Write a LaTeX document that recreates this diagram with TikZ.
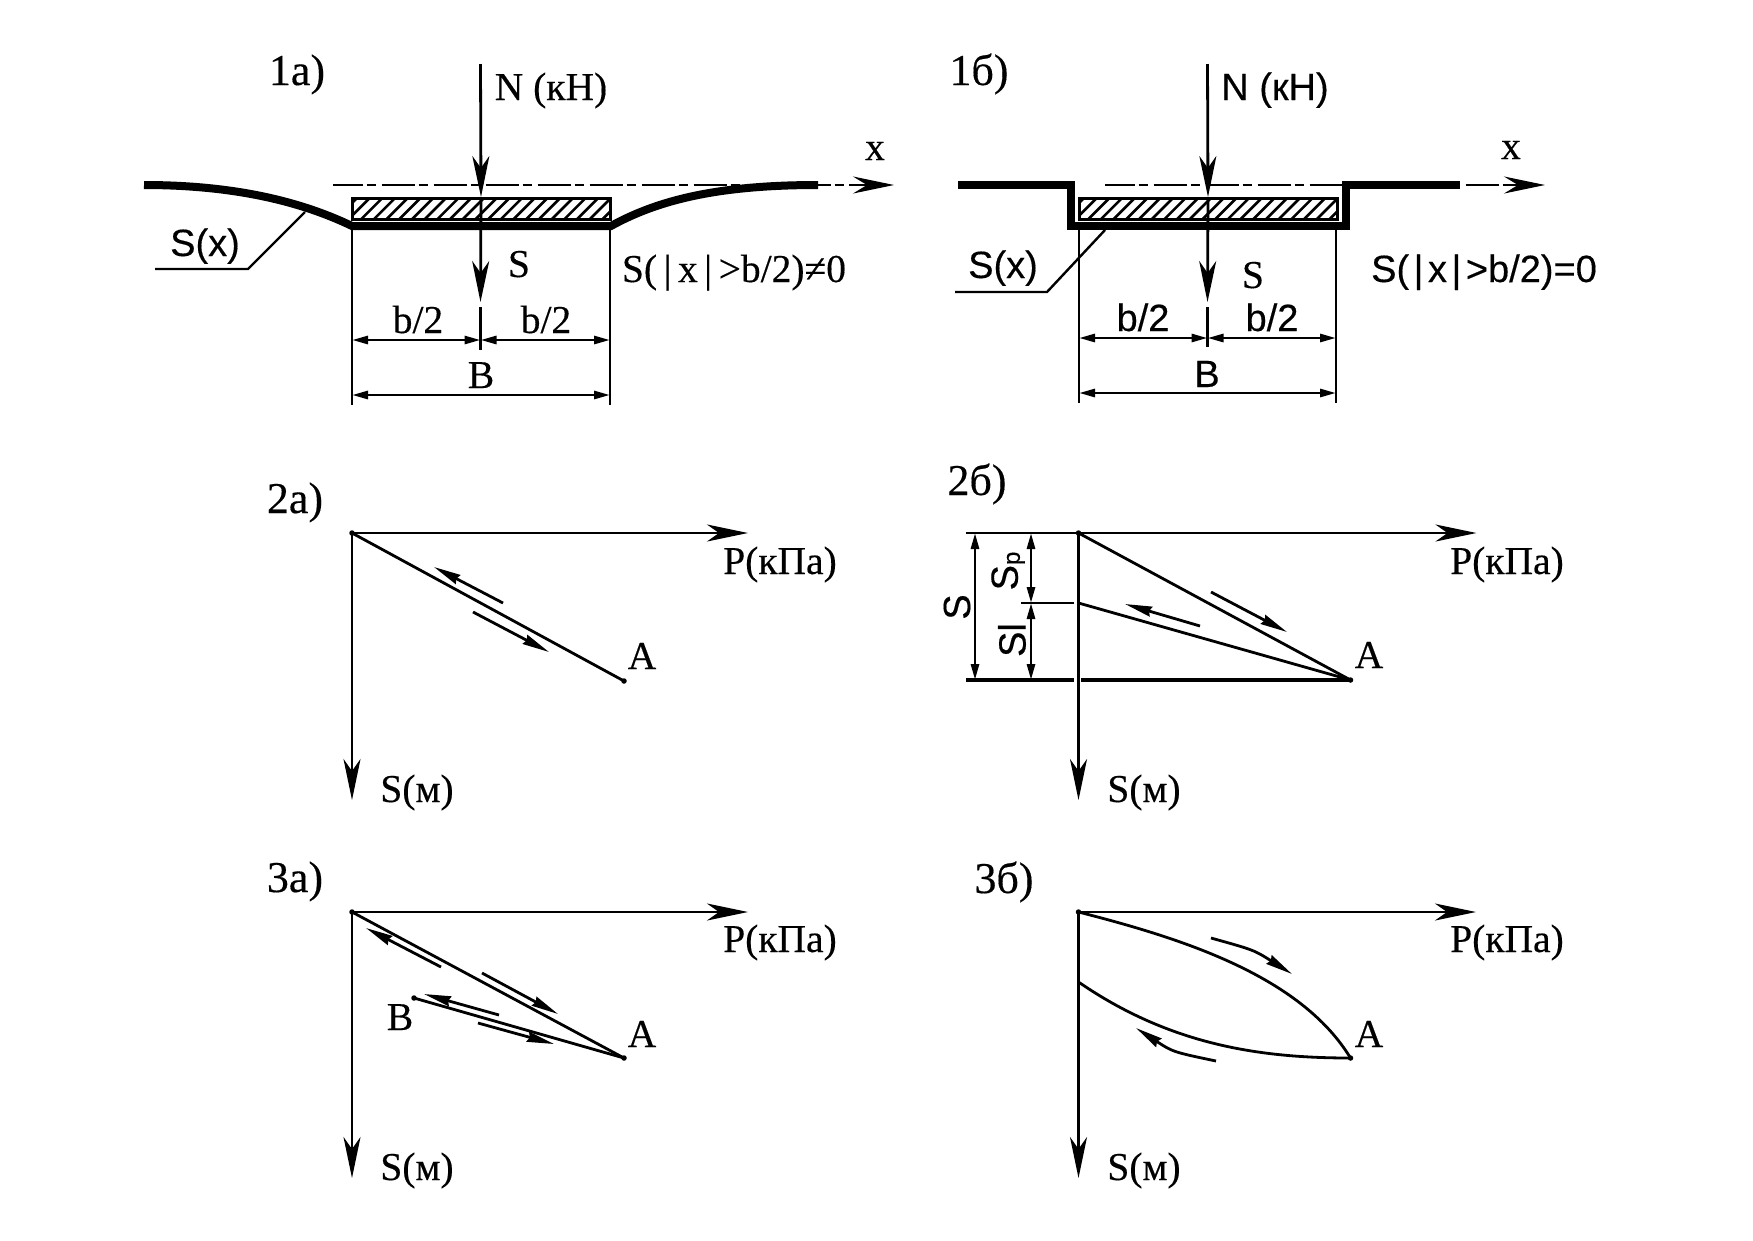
\documentclass[tikz,border=0pt]{standalone}
\usepackage{fontspec}
\setmainfont{Liberation Serif}[FakeBold=0.35]
\setsansfont{Liberation Sans}[FakeBold=0.35]
\usetikzlibrary{arrows.meta}
\tikzset{
  base line/.style={line width=2.8pt,line cap=butt},
  main arrow/.style={base line,-{Stealth[length=41pt,width=17pt,inset=12pt]}},
  small arrow/.style={base line,-{Stealth[length=27pt,width=10pt,inset=2pt]}},
  dim line/.style={base line,{Stealth[length=16pt,width=8pt,inset=0pt]}-{Stealth[length=16pt,width=8pt,inset=0pt]}},
  thin line/.style={line width=2.4pt},
  ground/.style={line width=8pt,miter limit=10},
  axis line/.style={base line,dash pattern=on 33pt off 4pt on 9pt off 6pt,dash phase=3.3pt},
  axis head/.style={base line,-{Stealth[length=41pt,width=17pt,inset=14pt]}},
  plate/.style={draw,line width=3pt,inner sep=0pt,minimum width=258pt,minimum height=21pt,
    path picture={\foreach \i in {-146,-133.3,...,130}{
      \draw[line width=2.6pt] (\i pt,-11pt) -- ++(22pt,22pt);}}},
  serif lab/.style={inner sep=0pt,anchor=base,font=\fontsize{39.5}{41}\selectfont},
  sans lab/.style={inner sep=0pt,anchor=base,font=\fontsize{38}{40}\sffamily\selectfont},
  title lab/.style={inner sep=0pt,anchor=base,font=\fontsize{44}{46}\selectfont},
  pt dot/.style={circle,fill,inner sep=0pt,minimum size=5.5pt},
}
\begin{document}
\begin{tikzpicture}[x=1pt,y=-1pt]
\useasboundingbox (0,0) rectangle (1753,1240);
\fill[white] (0,0) rectangle (1753,1240);

% ---------- 1a
\node[plate] (plA) at (481,209) {};
\coordinate (nA) at (480.5,64);
\coordinate (sA) at (480.5,302);
\coordinate (tA1) at (480.5,307);
\coordinate (tA2) at (480.5,350);
\draw[main arrow] (nA) -- (plA.north);
\draw[main arrow] (plA.north) -- (sA);
\draw[base line] (tA1) -- (tA2);
\coordinate (axA1) at (333,185);
\coordinate (axA2) at (853,185);
\coordinate (axA3) at (894,185);
\draw[axis line] (axA1) -- (axA2);
\draw[axis head] (axA2) ++(-4,0) -- (axA3);
\coordinate (gA1) at (144,185);
\coordinate (gA2) at (352,226);
\coordinate (gA3) at (611,226);
\coordinate (gA4) at (818,185);
\draw[ground] (gA1) .. controls (230,185) and (298,200) .. (gA2) -- (gA3) .. controls (658,200) and (718,185) .. (gA4);
\coordinate (lA1) at (352,230);
\coordinate (lA2) at (352,405);
\coordinate (lA3) at (610,230);
\coordinate (lA4) at (610,405);
\draw[thin line] (lA1) -- (lA2);
\draw[thin line] (lA3) -- (lA4);
\coordinate (dA1) at (352,340);
\coordinate (dA2) at (480.5,340);
\coordinate (dA3) at (610,340);
\draw[dim line] (dA1) -- (dA2);
\draw[dim line] (dA2) -- (dA3);
\coordinate (dA4) at (352,395);
\coordinate (dA5) at (610,395);
\draw[dim line] (dA4) -- (dA5);
\coordinate (ldA1) at (305,212);
\coordinate (ldA2) at (248,269);
\coordinate (ldA3) at (155,269);
\draw[thin line] (ldA1) -- (ldA2) -- (ldA3);
\node[title lab] (t1a) at (297,85) {1а)};
\node[serif lab] (nLA) at (551,100) {N (кН)};
\node[serif lab] (xLA) at (875,160) {x};
\node[sans lab] (sxA) at (205,256) {S(x)};
\node[serif lab] (sLA) at (519,277) {S};
\node[serif lab] (condA) at (734,282) {S(\kern6.5pt|\kern6.5pt x\kern6.5pt|\kern6.5pt>b/2)≠0};
\node[serif lab] (bA1) at (418,333) {b/2};
\node[serif lab] (bA2) at (546,333) {b/2};
\node[serif lab] (bA3) at (481,388) {B};

% ---------- 1b
\node[plate] (plB) at (1208,209) {};
\coordinate (nB) at (1207.5,64);
\coordinate (sB) at (1207.5,302);
\coordinate (tB1) at (1207.5,307);
\coordinate (tB2) at (1207.5,347);
\draw[main arrow] (nB) -- (plB.north);
\draw[main arrow] (plB.north) -- (sB);
\draw[base line] (tB1) -- (tB2);
\coordinate (axB1) at (1105,185);
\coordinate (axB2) at (1507,185);
\coordinate (axB3) at (1545,185);
\draw[axis line] (axB1) -- (axB2);
\draw[axis head] (axB2) ++(-4,0) -- (axB3);
\coordinate (gB1) at (958,185);
\coordinate (gB2) at (1070.5,185);
\coordinate (gB3) at (1070.5,226);
\coordinate (gB4) at (1346,226);
\coordinate (gB5) at (1346,185);
\coordinate (gB6) at (1460,185);
\draw[ground] (gB1) -- (gB2) -- (gB3) -- (gB4) -- (gB5) -- (gB6);
\coordinate (lB1) at (1079,230);
\coordinate (lB2) at (1079,403);
\coordinate (lB3) at (1336,230);
\coordinate (lB4) at (1336,403);
\draw[thin line] (lB1) -- (lB2);
\draw[thin line] (lB3) -- (lB4);
\coordinate (dB1) at (1079,338);
\coordinate (dB2) at (1207.5,338);
\coordinate (dB3) at (1336,338);
\draw[dim line] (dB1) -- (dB2);
\draw[dim line] (dB2) -- (dB3);
\coordinate (dB4) at (1079,393);
\coordinate (dB5) at (1336,393);
\draw[dim line] (dB4) -- (dB5);
\coordinate (ldB1) at (1105,230);
\coordinate (ldB2) at (1047,292);
\coordinate (ldB3) at (955,292);
\draw[thin line] (ldB1) -- (ldB2) -- (ldB3);
\node[title lab] (t1b) at (979,85) {1б)};
\node[sans lab] (nLB) at (1275,100) {N (кН)};
\node[serif lab] (xLB) at (1511,159) {x};
\node[sans lab] (sxB) at (1003,278) {S(x)};
\node[serif lab] (sLB) at (1253,288) {S};
\node[sans lab] (condB) at (1484,282) {S(\kern4.5pt|\kern4.5pt x\kern4.5pt|\kern4.5pt>b/2)=0};
\node[sans lab] (bB1) at (1143,331) {b/2};
\node[sans lab] (bB2) at (1272,331) {b/2};
\node[sans lab] (bB3) at (1207,387) {B};

% ---------- 2a
\node[pt dot] (oC) at (352,533) {};
\node[pt dot] (aC) at (624,681) {};
\coordinate (pC) at (748,533);
\coordinate (qC) at (352,800);
\draw[main arrow] (oC.center) -- (pC);
\draw[main arrow] (oC.center) -- (qC);
\draw[base line] (oC.center) -- (aC.center);
\coordinate (c1) at (503,603);
\coordinate (c2) at (434,567);
\coordinate (c3) at (473,612);
\coordinate (c4) at (549,652);
\draw[small arrow] (c1) -- (c2);
\draw[small arrow] (c3) -- (c4);
\node[title lab] (t2a) at (295,513) {2а)};
\node[serif lab] (pLC) at (780,574) {P(кПа)};
\node[serif lab] (aLC) at (642,669) {A};
\node[serif lab] (qLC) at (417,802) {S(м)};

% ---------- 2b
\node[pt dot] (oD) at (1078.5,533) {};
\node[pt dot] (aD) at (1350.5,680) {};
\coordinate (mD) at (1078.5,603);
\coordinate (pD) at (1476.5,533);
\coordinate (qD) at (1078.5,800);
\draw[main arrow] (oD.center) -- (pD);
\draw[main arrow] (oD.center) -- (qD);
\draw[base line] (oD.center) -- (aD.center);
\draw[base line] (mD) -- (aD.center);
\coordinate (h1) at (966,533);
\coordinate (h2) at (966,680);
\coordinate (h3) at (1074,680);
\coordinate (h4) at (1081,680);
\coordinate (h5) at (1021,603);
\coordinate (h6) at (1074,603);
\draw[base line] (h1) -- (oD.center);
\draw[line width=3.4pt] (h2) -- (h3);
\draw[line width=3.4pt] (h4) -- (aD.center);
\draw[thin line] (h5) -- (h6);
\coordinate (e1) at (975,533);
\coordinate (e2) at (975,680);
\coordinate (e3) at (1031,533);
\coordinate (e4) at (1031,603);
\coordinate (e5) at (1031,680);
\draw[dim line] (e1) -- (e2);
\draw[dim line] (e3) -- (e4);
\draw[dim line] (e4) -- (e5);
\coordinate (d1) at (1211,592);
\coordinate (d2) at (1287,632);
\coordinate (d3) at (1200,626);
\coordinate (d4) at (1125,604);
\draw[small arrow] (d1) -- (d2);
\draw[small arrow] (d3) -- (d4);
\node[title lab] (t2b) at (977,495) {2б)};
\node[serif lab] (pLD) at (1507,574) {P(кПа)};
\node[serif lab] (aLD) at (1369,668) {A};
\node[serif lab] (qLD) at (1144,802) {S(м)};
\node[inner sep=0pt,rotate=90,font=\fontsize{38}{40}\sffamily\selectfont] (sLD) at (957,607) {S};
\node[inner sep=0pt,rotate=90,font=\fontsize{38}{40}\sffamily\selectfont] (spLD) at (1008,571) {S\raisebox{-2pt}{\fontsize{24}{26}\selectfont p}};
\node[inner sep=0pt,rotate=90,font=\fontsize{38}{40}\sffamily\selectfont] (slLD) at (1012,640) {Sl};

% ---------- 3a
\node[pt dot] (oE) at (352,912) {};
\node[pt dot] (aE) at (624,1058) {};
\node[pt dot] (bE) at (414,998) {};
\coordinate (pE) at (748,912);
\coordinate (qE) at (352,1178);
\draw[main arrow] (oE.center) -- (pE);
\draw[main arrow] (oE.center) -- (qE);
\draw[base line] (oE.center) -- (aE.center);
\draw[base line] (bE.center) -- (aE.center);
\coordinate (f1) at (441,967);
\coordinate (f2) at (366,928);
\coordinate (f3) at (482,973);
\coordinate (f4) at (558,1014);
\coordinate (f5) at (499,1015);
\coordinate (f6) at (424,994);
\coordinate (f7) at (478,1023);
\coordinate (f8) at (554,1044);
\draw[small arrow] (f1) -- (f2);
\draw[small arrow] (f3) -- (f4);
\draw[small arrow] (f5) -- (f6);
\draw[small arrow] (f7) -- (f8);
\node[title lab] (t3a) at (295,892) {3а)};
\node[serif lab] (pLE) at (780,952) {P(кПа)};
\node[serif lab] (aLE) at (642,1047) {A};
\node[serif lab] (bLE) at (400,1030) {B};
\node[serif lab] (qLE) at (417,1180) {S(м)};

% ---------- 3b
\node[pt dot] (oF) at (1078.5,912) {};
\node[pt dot] (aF) at (1350.5,1058) {};
\coordinate (mF) at (1078.5,982);
\coordinate (pF) at (1476,912);
\coordinate (qF) at (1078.5,1178);
\draw[main arrow] (oF.center) -- (pF);
\draw[main arrow] (oF.center) -- (qF);
\draw[base line] (oF.center) .. controls (1180,938) and (1300,975) .. (aF.center);
\draw[base line] (mF) .. controls (1170,1045) and (1260,1058) .. (aF.center);
\coordinate (g1) at (1211,938);
\coordinate (g2) at (1292,974);
\coordinate (g3) at (1216,1061);
\coordinate (g4) at (1136,1028);
\draw[small arrow] (g1) .. controls (1254,950) .. (g2);
\draw[small arrow] (g3) .. controls (1173,1052) .. (g4);
\node[title lab] (t3b) at (1004,893) {3б)};
\node[serif lab] (pLF) at (1507,952) {P(кПа)};
\node[serif lab] (aLF) at (1369,1047) {A};
\node[serif lab] (qLF) at (1144,1180) {S(м)};
\end{tikzpicture}
\end{document}
